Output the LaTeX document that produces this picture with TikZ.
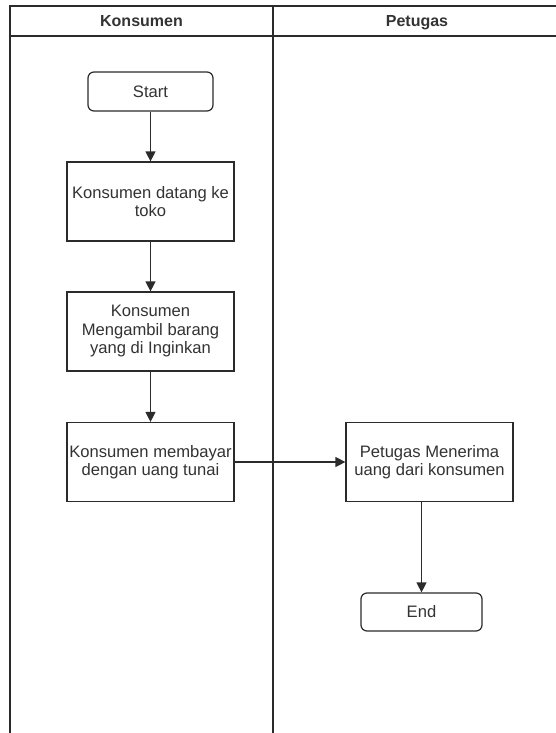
\documentclass[tikz,border=0pt]{standalone}
\usepackage{fontspec}
\setmainfont{Liberation Sans}
\usetikzlibrary{arrows.meta, positioning}
\definecolor{LaneLine}{HTML}{2B2B2B}
\definecolor{LabelText}{HTML}{333333}

\begin{document}
\begin{tikzpicture}[x=1pt, y=-1pt,
    lanetitle/.style={anchor=base, text=LabelText, font=\fontsize{16}{18}\selectfont\bfseries},
    process/.style={draw=LaneLine, line width=1.2pt, fill=white, text=LabelText,
        minimum width=167pt, minimum height=79pt, inner sep=0pt, align=center,
        font=\fontsize{16.6}{18.5}\selectfont},
    terminal/.style={process, rounded corners=6pt, minimum width=125pt, minimum height=39pt},
    flow/.style={draw=LaneLine, line width=1.2pt, -{Triangle[width=10pt,length=10pt]}}]
    \useasboundingbox (0,0) rectangle (556,733);

    % Swimlanes
    \begin{scope}
        \clip (0,0) rectangle (556,733);
        \draw[LaneLine, line width=1.4pt] (10,745) -- (10,6) -- (561,6) -- (561,745);
        \draw[LaneLine, line width=1.4pt] (10,36) -- (561,36);
        \draw[LaneLine, line width=1.4pt] (273,6) -- (273,745);
    \end{scope}
    \node[lanetitle] (laneKonsumen) at (141.5,26.5) {Konsumen};
    \node[lanetitle] (lanePetugas) at (417,26.5) {Petugas};

    % Konsumen lane
    \node[terminal] (start) at (150.5,91.5) {Start};
    \node[process] (datang) at (150.5,201.5) {Konsumen datang ke\\toko};
    \node[process] (ambil) at (150.5,331.5) {Konsumen\\Mengambil barang\\yang di Inginkan};
    \node[process] (bayar) at (150.5,462) {Konsumen membayar\\dengan uang tunai};

    % Petugas lane
    \node[process] (terima) at (429.5,462) {Petugas Menerima\\uang dari konsumen};
    \node[terminal, minimum width=121pt, minimum height=38pt] (selesai) at (421.5,612) {End};

    % Flow
    \draw[flow] (start) -- (datang);
    \draw[flow] (datang) -- (ambil);
    \draw[flow] (ambil) -- (bayar);
    \draw[flow] (bayar) -- (terima);
    \draw[flow] (selesai |- terima.south) -- (selesai.north);
\end{tikzpicture}
\end{document}
